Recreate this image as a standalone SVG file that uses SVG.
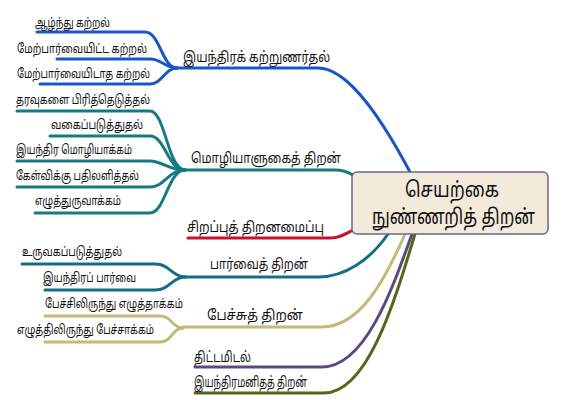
<svg xmlns="http://www.w3.org/2000/svg" width="585" height="400" viewBox="0 0 585 400">
<style>
text{font-family:"Noto Sans Tamil","Lohit Tamil","Noto Sans",sans-serif;fill:#111;}
.s{font-size:12.5px;}
.b{font-size:14.5px;}
.c{font-size:21px;}
path{fill:none;stroke-width:3;stroke-linecap:round;}
.blue{stroke:#1a56c8;}
.teal{stroke:#167a82;}
.red{stroke:#c8102e;}
.vis{stroke:#136e86;}
.kh{stroke:#c4b87a;}
.pur{stroke:#5c4a7e;}
.ol{stroke:#556619;}
</style>
<rect width="585" height="400" fill="#fff"/>
<g id="connectors">
<path class="blue" d="M175,68 H318 C350,68 385,125 410,172"/>
<path class="blue" d="M37,32 H145 C160,32 162,68 177,68"/>
<path class="blue" d="M57,59 H150 C162,59 165,68 177,68"/>
<path class="blue" d="M40,84 H150 C162,84 165,68 177,68"/>
<path class="teal" d="M183,170 H335 C343,170 348,172 353,175"/>
<path class="teal" d="M17,111 H150 C165,111 168,170 185,170"/>
<path class="teal" d="M50,136 H150 C165,136 168,170 185,170"/>
<path class="teal" d="M17,161 H150 C162,161 168,170 185,170"/>
<path class="teal" d="M17,187 H150 C165,187 168,170 185,170"/>
<path class="teal" d="M35,213 H150 C165,213 168,170 185,170"/>
<path class="red" d="M188,238 H330 C340,238 345,234 353,230"/>
<path class="vis" d="M183,277 H318 C345,277 370,260 388,234"/>
<path class="vis" d="M22,264 H155 C170,264 172,277 185,277"/>
<path class="vis" d="M45,290 H155 C170,290 172,277 185,277"/>
<path class="kh" d="M183,327 H322 C360,327 385,280 405,234"/>
<path class="kh" d="M45,316 H160 C172,316 172,328 183,328"/>
<path class="kh" d="M45,342 H160 C172,342 172,328 183,328"/>
<path class="pur" d="M195,367 H322 C365,367 392,290 412,234"/>
<path class="ol" d="M195,393 H324 C368,393 395,300 415,234"/>
</g>
<g id="center">
<rect x="352" y="172" width="196" height="62" rx="5" fill="#f3eadb" stroke="#6b6a8a" stroke-width="1.5"/>
<text class="c" x="405" y="197" textLength="94" lengthAdjust="spacingAndGlyphs">செயற்கை</text>
<text class="c" x="372" y="224" textLength="163" lengthAdjust="spacingAndGlyphs">நுண்ணறித் திறன்</text>
</g>
<g id="ml"><text class="b" x="183" y="62" textLength="147" lengthAdjust="spacingAndGlyphs">இயந்திரக் கற்றுணர்தல்</text></g>
<g id="ml1"><text class="s" x="35" y="27" textLength="75" lengthAdjust="spacingAndGlyphs">ஆழ்ந்து கற்றல்</text></g>
<g id="ml2"><text class="s" x="17" y="53" textLength="130" lengthAdjust="spacingAndGlyphs">மேற்பார்வையிட்ட கற்றல்</text></g>
<g id="ml3"><text class="s" x="17" y="78" textLength="133" lengthAdjust="spacingAndGlyphs">மேற்பார்வையிடாத கற்றல்</text></g>
<g id="nlp"><text class="b" x="191" y="163" textLength="150" lengthAdjust="spacingAndGlyphs">மொழியாளுகைத் திறன்</text></g>
<g id="nlp1"><text class="s" x="16" y="104" textLength="134" lengthAdjust="spacingAndGlyphs">தரவுகளை பிரித்தெடுத்தல்</text></g>
<g id="nlp2"><text class="s" x="51" y="129" textLength="92" lengthAdjust="spacingAndGlyphs">வகைப்படுத்துதல்</text></g>
<g id="nlp3"><text class="s" x="16" y="154" textLength="116" lengthAdjust="spacingAndGlyphs">இயந்திர மொழியாக்கம்</text></g>
<g id="nlp4"><text class="s" x="16" y="180" textLength="123" lengthAdjust="spacingAndGlyphs">கேள்விக்கு பதிலளித்தல்</text></g>
<g id="nlp5"><text class="s" x="35" y="205" textLength="86" lengthAdjust="spacingAndGlyphs">எழுத்துருவாக்கம்</text></g>
<g id="expert"><text class="b" x="187" y="232" textLength="137" lengthAdjust="spacingAndGlyphs">சிறப்புத் திறனமைப்பு</text></g>
<g id="vision"><text class="b" x="210" y="269" textLength="98" lengthAdjust="spacingAndGlyphs">பார்வைத் திறன்</text></g>
<g id="vis1"><text class="s" x="22" y="256" textLength="100" lengthAdjust="spacingAndGlyphs">உருவகப்படுத்துதல்</text></g>
<g id="vis2"><text class="s" x="43" y="282" textLength="93" lengthAdjust="spacingAndGlyphs">இயந்திரப் பார்வை</text></g>
<g id="speech"><text class="b" x="207" y="320" textLength="96" lengthAdjust="spacingAndGlyphs">பேச்சுத் திறன்</text></g>
<g id="sp1"><text class="s" x="45" y="308" textLength="138" lengthAdjust="spacingAndGlyphs">பேச்சிலிருந்து எழுத்தாக்கம்</text></g>
<g id="sp2"><text class="s" x="17" y="334" textLength="137" lengthAdjust="spacingAndGlyphs">எழுத்திலிருந்து பேச்சாக்கம்</text></g>
<g id="plan"><text class="b" x="194" y="362" textLength="57" lengthAdjust="spacingAndGlyphs">திட்டமிடல்</text></g>
<g id="robot"><text class="b" x="194" y="387" textLength="113" lengthAdjust="spacingAndGlyphs">இயந்திரமனிதத் திறன்</text></g>
</svg>
